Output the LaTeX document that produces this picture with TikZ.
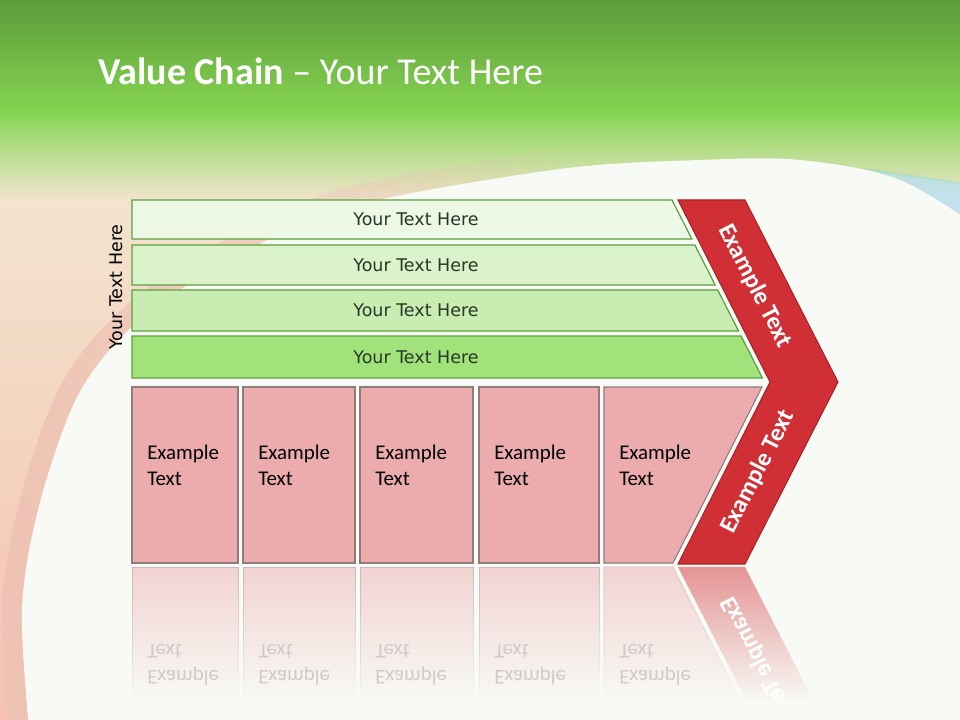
\documentclass[tikz,border=0pt]{standalone}
\usepackage{fontspec}
\setmainfont{Carlito}
\newfontfamily\sidefont{DejaVu Sans}
\usetikzlibrary{fadings}
\definecolor{bgwhite}{HTML}{F8FAF5}
\definecolor{topgreen}{HTML}{5E9B3B}
\definecolor{midgreen}{HTML}{86D652}
\definecolor{salmon}{HTML}{F5C2B0}
\definecolor{cream}{HTML}{F2EAD4}
\definecolor{pinkband}{HTML}{EEC2B4}
\definecolor{skyblue}{HTML}{C4E2EE}
\definecolor{barA}{HTML}{EEF8E6}
\definecolor{barB}{HTML}{DAF3CB}
\definecolor{barC}{HTML}{C8ECB2}
\definecolor{barD}{HTML}{A2E27A}
\definecolor{barline}{HTML}{5E9E3E}
\definecolor{bartxt}{HTML}{263826}
\definecolor{boxpink}{HTML}{ECACAE}
\definecolor{boxline}{HTML}{8C7C7C}
\definecolor{mirrorgray}{HTML}{D2CACA}
\definecolor{chevred}{HTML}{D03035}
\definecolor{chevline}{HTML}{A82228}
\newcommand{\whiteedge}{plot[smooth,tension=0.55] coordinates {(990,235) (900,180) (800,160) (700,160)
  (560,169) (357,205) (250,249) (161,303) (107,353) (71,410) (38,510) (22,610) (30,740)}}
\newcommand{\bandedge}{plot[smooth,tension=0.55] coordinates {(560,169) (357,205) (250,249)
  (161,303) (107,353) (71,410) (38,510) (22,610) (30,740)}}

\begin{document}
\begin{tikzpicture}[x=0.75pt,y=-0.75pt,
  bar/.style={draw=barline,line width=0.9pt},
  bartext/.style={font=\sidefont\fontsize{13.1}{15}\selectfont,text=bartxt},
  pinkbox/.style={draw=boxline,fill=boxpink,line width=0.8pt},
  boxtext/.style={font=\fontsize{15.7}{19.5}\selectfont,align=left,inner sep=0pt,anchor=north west},
  mirrortext/.style={boxtext,yscale=-1,text=mirrorgray},
  chevtext/.style={font=\bfseries\fontsize{18.5}{22}\selectfont,text=white},
  reflect/.style={path fading=south,fill opacity=0.5}]
\useasboundingbox (0,0) rectangle (960,720);
\fill[bgwhite] (0,0) rectangle (960,720);
\fill[top color=cream,bottom color=salmon] (0,100) rectangle (960,720);
\fill[skyblue] (865,168) -- (960,182) -- (960,260) -- (865,260) -- cycle;
\fill[midgreen,path fading=south] (0,112) rectangle (960,200);
\draw[pinkband,line width=30pt,opacity=0.9,path fading=east] \bandedge;
\fill[skyblue,opacity=0.6] (870,171) -- (960,184) -- (960,230) -- (870,190) -- cycle;
\fill[bgwhite] \whiteedge -- (-10,740) -- (-10,760) -- (990,760) -- cycle;
\fill[top color=topgreen,bottom color=midgreen] (0,0) rectangle (960,116);

\node[anchor=base west,inner sep=0pt,text=white,font=\fontsize{28.5}{34}\selectfont] (title) at (98,85)
  {\textbf{Value Chain} – Your Text Here};

\foreach \ya/\yb/\col [count=\i] in {200/239/barA,245/285/barB,290/331/barC,336/378/barD}{
  \draw[bar,fill=\col] (132,\ya) -- ({672+0.508*(\ya-200)},\ya) -- ({672+0.508*(\yb-200)},\yb) -- (132,\yb) -- cycle;
  \node[bartext] (bar\i) at (416,{(\ya+\yb)/2}) {Your Text Here};
}
\node[bartext,text=black,rotate=90] (side) at (116,287) {Your Text Here};

\foreach \l/\r [count=\i] in {132/238,243/355,360/473,479/599}{
  \draw[pinkbox] (\l,387) rectangle (\r,563);
  \node[boxtext] (box\i) at (\l+15,445) {Example\\Text};
  \fill[boxpink,reflect,draw=boxline!50] (\l,567) rectangle (\r,700);
  \node[mirrortext] (mirror\i) at (\l+15,685) {Example\\Text};
}
\draw[pinkbox] (604,387) -- (762,387) -- (673,563) -- (604,563) -- cycle;
\node[boxtext] (box5) at (619,445) {Example\\Text};
\fill[boxpink,reflect,draw=boxline!50] (604,567) -- (673,567) -- (740,700) -- (604,700) -- cycle;
\node[mirrortext] (mirror5) at (619,685) {Example\\Text};

\draw[fill=chevred,draw=chevline,line width=0.8pt] (678,200) -- (745,200) -- (838,382) -- (745,564) -- (678,564) -- (770,382) -- cycle;
\node[chevtext,rotate=-63] (upper) at (755,286) {Example Text};
\node[chevtext,rotate=63] (lower) at (758,472) {Example Text};
\begin{scope}
\clip (660,566) rectangle (860,698);
\fill[chevred,reflect] (678,567) -- (745,567) -- (813,700) -- (746,700) -- cycle;
\node[chevtext,rotate=-63,yscale=-1] (lowermirror) at (758,658) {Example Text};
\end{scope}
\end{tikzpicture}
\end{document}
